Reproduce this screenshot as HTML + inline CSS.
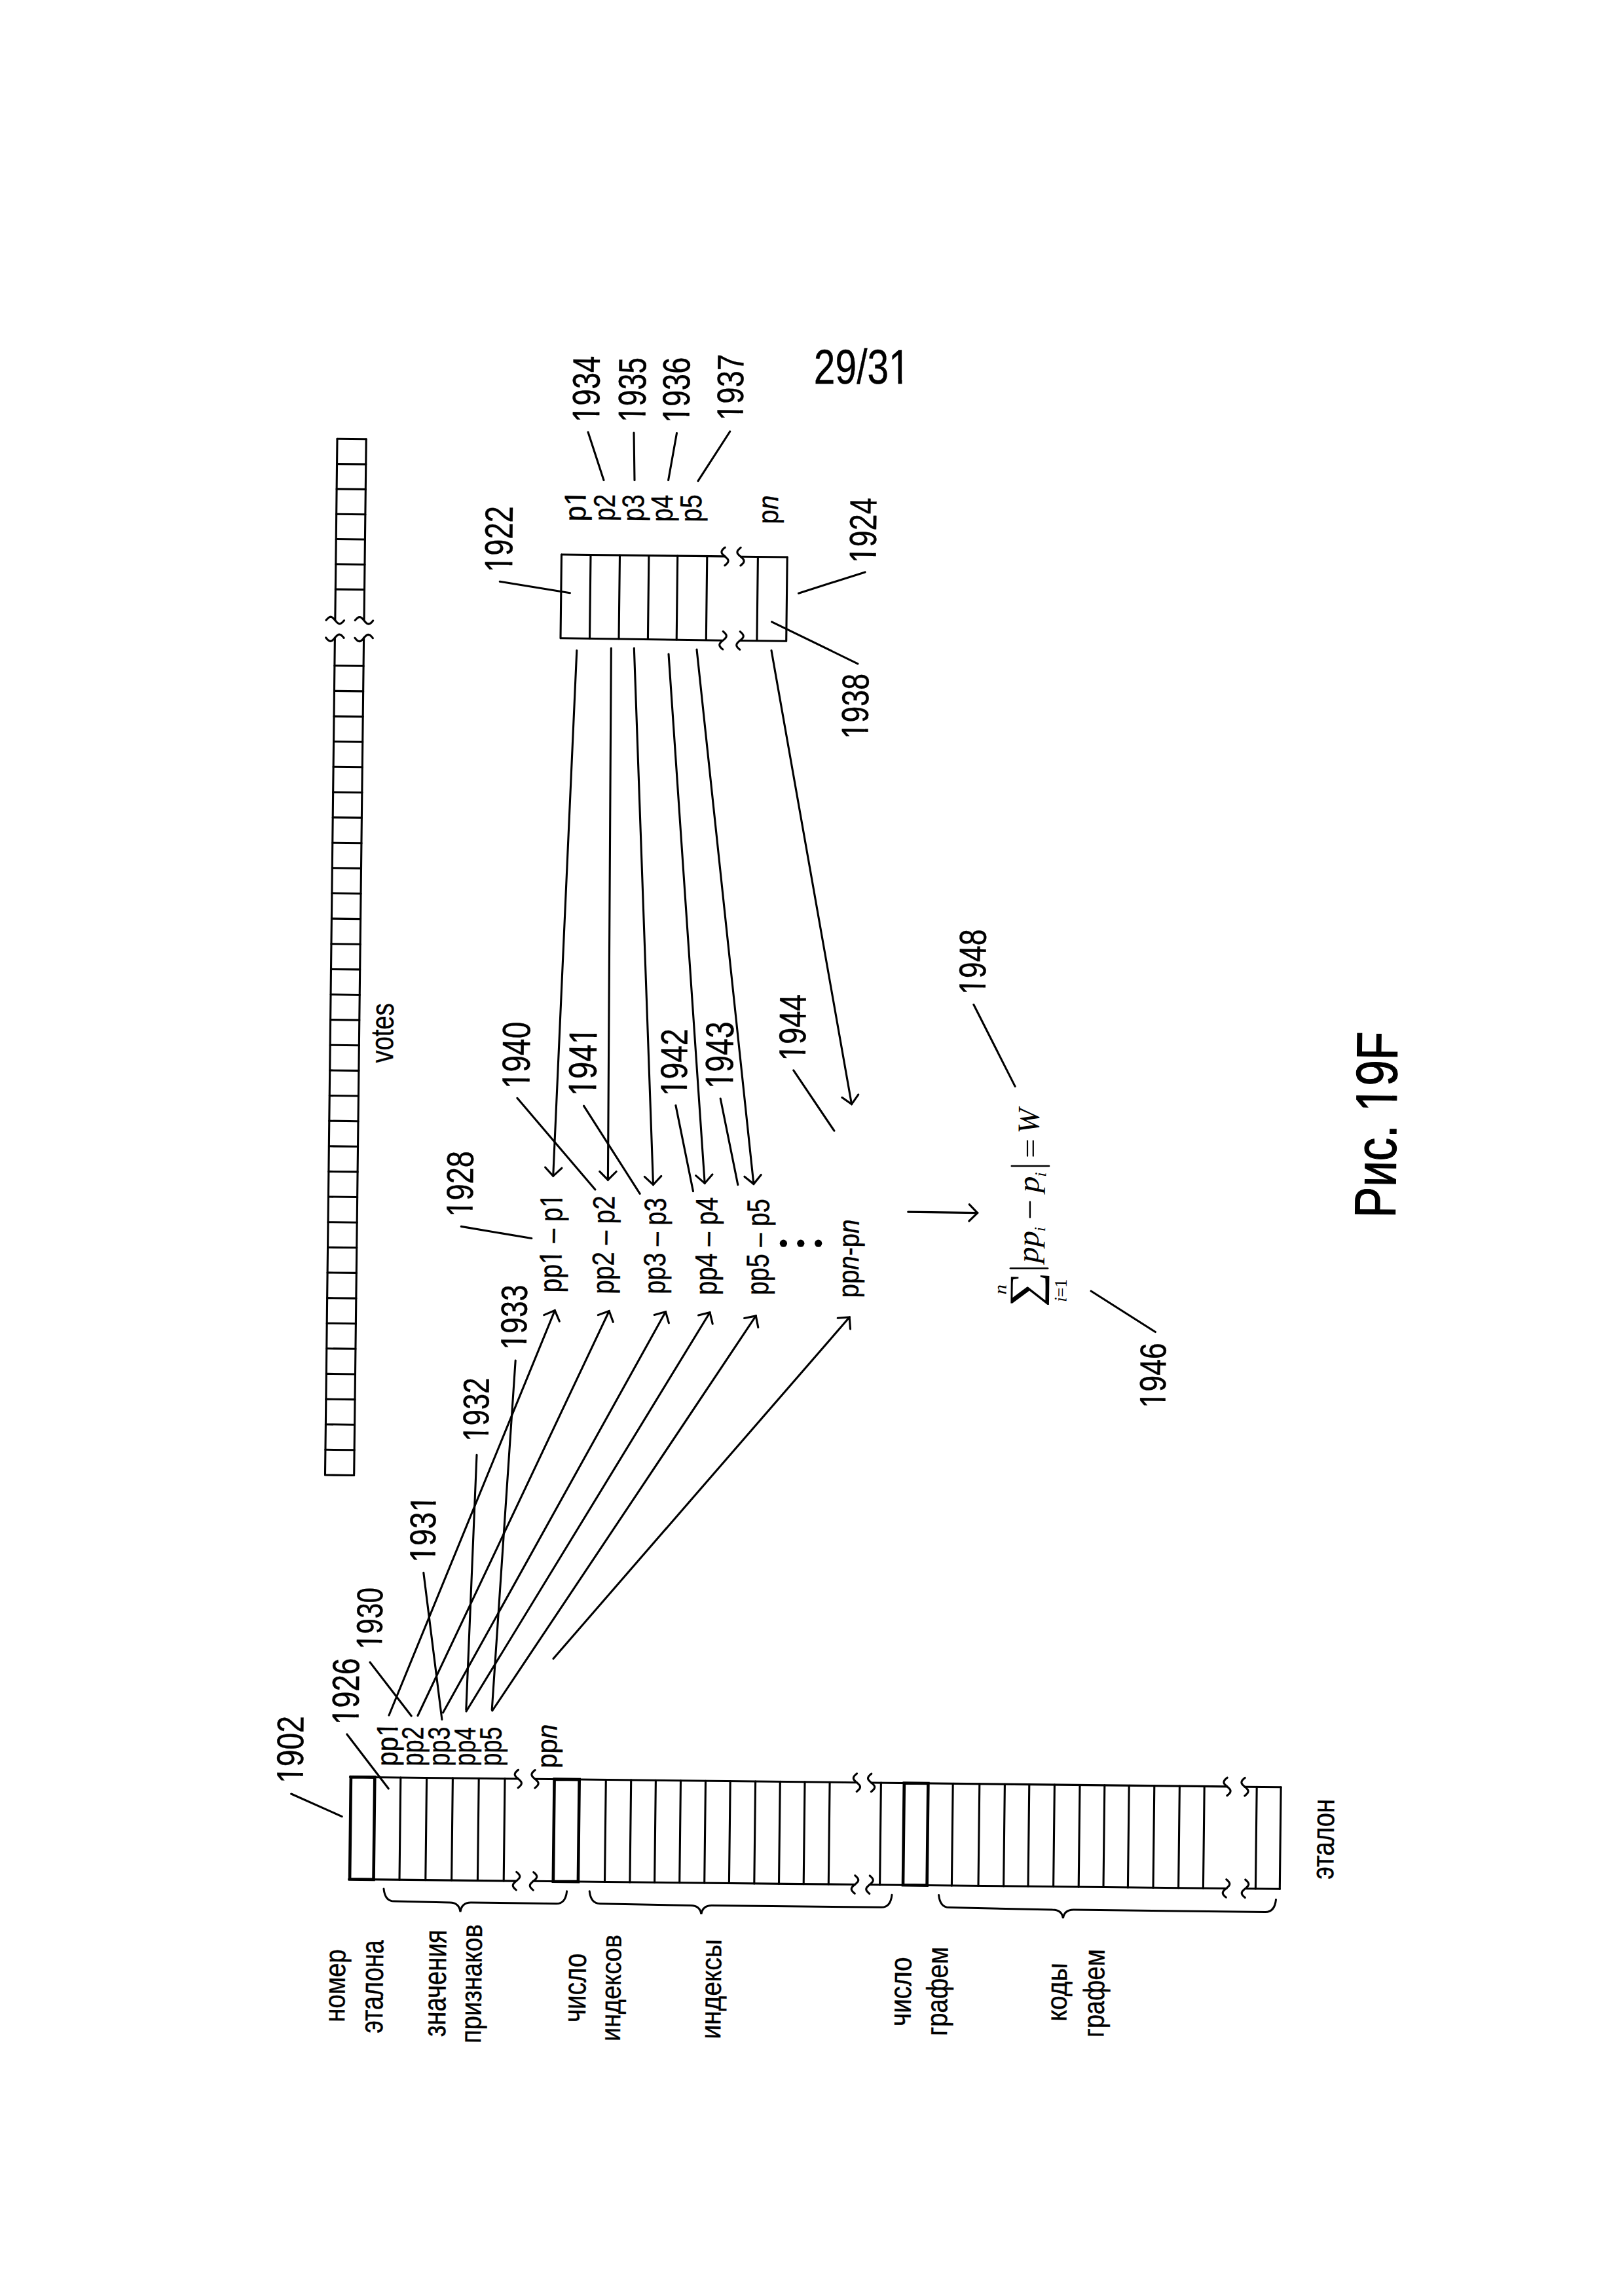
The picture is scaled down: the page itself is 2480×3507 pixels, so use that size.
<!DOCTYPE html>
<html><head><meta charset="utf-8"><style>
html,body{margin:0;padding:0;background:#fff;}
svg{display:block;}
</style></head><body>
<svg width="2480" height="3507" viewBox="0 0 2480 3507">
<rect width="2480" height="3507" fill="#fff"/>
<g stroke="#000" fill="none" stroke-linecap="round">
<g fill="#000" stroke="none">
</g>
<text fill="#000" stroke="#000" stroke-width="0.4" x="1242.8" y="586.3" font-family="'Liberation Sans', sans-serif" font-size="74.7" textLength="147" lengthAdjust="spacingAndGlyphs">29/31</text>
<g transform="translate(1242.8,586.3)" fill="#fff" stroke="none"><rect x="116.8" y="-6.9" width="11.9" height="8.3"/><rect x="134.6" y="-6.9" width="11.4" height="8.3"/></g>
<line x1="515" y1="670.3" x2="511.8" y2="947.5" stroke-width="3.1"/>
<line x1="559.2" y1="670.8" x2="556" y2="947.5" stroke-width="3.1"/>
<line x1="511.4" y1="974" x2="496.5" y2="2252" stroke-width="3.1"/>
<line x1="555.6" y1="974" x2="540.7" y2="2252" stroke-width="3.1"/>
<line x1="515" y1="670.3" x2="559.2" y2="670.8" stroke-width="3.1"/>
<line x1="514.6" y1="708.6" x2="558.8" y2="709.1" stroke-width="3.1"/>
<line x1="514.1" y1="746.9" x2="558.3" y2="747.4" stroke-width="3.1"/>
<line x1="513.7" y1="785.2" x2="557.9" y2="785.7" stroke-width="3.1"/>
<line x1="513.2" y1="823.5" x2="557.4" y2="824" stroke-width="3.1"/>
<line x1="512.8" y1="861.8" x2="557" y2="862.3" stroke-width="3.1"/>
<line x1="512.3" y1="900.1" x2="556.5" y2="900.6" stroke-width="3.1"/>
<line x1="510.9" y1="1016.8" x2="555.1" y2="1017.3" stroke-width="3.1"/>
<line x1="510.5" y1="1055.4" x2="554.7" y2="1055.9" stroke-width="3.1"/>
<line x1="510" y1="1094.1" x2="554.2" y2="1094.6" stroke-width="3.1"/>
<line x1="509.6" y1="1132.7" x2="553.8" y2="1133.2" stroke-width="3.1"/>
<line x1="509.1" y1="1171.3" x2="553.3" y2="1171.8" stroke-width="3.1"/>
<line x1="508.7" y1="1210" x2="552.9" y2="1210.5" stroke-width="3.1"/>
<line x1="508.2" y1="1248.6" x2="552.4" y2="1249.1" stroke-width="3.1"/>
<line x1="507.8" y1="1287.2" x2="552" y2="1287.7" stroke-width="3.1"/>
<line x1="507.3" y1="1325.8" x2="551.5" y2="1326.4" stroke-width="3.1"/>
<line x1="506.9" y1="1364.5" x2="551.1" y2="1365" stroke-width="3.1"/>
<line x1="506.4" y1="1403.1" x2="550.6" y2="1403.6" stroke-width="3.1"/>
<line x1="506" y1="1441.7" x2="550.2" y2="1442.2" stroke-width="3.1"/>
<line x1="505.5" y1="1480.4" x2="549.7" y2="1480.9" stroke-width="3.1"/>
<line x1="505.1" y1="1519" x2="549.3" y2="1519.5" stroke-width="3.1"/>
<line x1="504.6" y1="1557.6" x2="548.8" y2="1558.1" stroke-width="3.1"/>
<line x1="504.2" y1="1596.2" x2="548.4" y2="1596.8" stroke-width="3.1"/>
<line x1="503.7" y1="1634.9" x2="547.9" y2="1635.4" stroke-width="3.1"/>
<line x1="503.3" y1="1673.5" x2="547.5" y2="1674" stroke-width="3.1"/>
<line x1="502.8" y1="1712.1" x2="547" y2="1712.7" stroke-width="3.1"/>
<line x1="502.4" y1="1750.8" x2="546.6" y2="1751.3" stroke-width="3.1"/>
<line x1="501.9" y1="1789.4" x2="546.1" y2="1789.9" stroke-width="3.1"/>
<line x1="501.5" y1="1828" x2="545.7" y2="1828.5" stroke-width="3.1"/>
<line x1="501" y1="1866.7" x2="545.2" y2="1867.2" stroke-width="3.1"/>
<line x1="500.6" y1="1905.3" x2="544.8" y2="1905.8" stroke-width="3.1"/>
<line x1="500.1" y1="1943.9" x2="544.3" y2="1944.4" stroke-width="3.1"/>
<line x1="499.7" y1="1982.6" x2="543.9" y2="1983.1" stroke-width="3.1"/>
<line x1="499.2" y1="2021.2" x2="543.4" y2="2021.7" stroke-width="3.1"/>
<line x1="498.8" y1="2059.8" x2="543" y2="2060.3" stroke-width="3.1"/>
<line x1="498.3" y1="2098.4" x2="542.5" y2="2099" stroke-width="3.1"/>
<line x1="497.8" y1="2137.1" x2="542" y2="2137.6" stroke-width="3.1"/>
<line x1="497.4" y1="2175.7" x2="541.6" y2="2176.2" stroke-width="3.1"/>
<line x1="496.9" y1="2214.3" x2="541.1" y2="2214.8" stroke-width="3.1"/>
<line x1="496.5" y1="2253" x2="540.7" y2="2253.5" stroke-width="3.1"/>
<polyline points="498,947.3 499.4,945.7 500.8,944.3 502.1,943.2 503.5,942.5 504.9,942.2 506.3,942.5 507.6,943.2 509,944.4 510.4,945.9 511.8,947.5 513.1,949.1 514.5,950.6 515.9,951.8 517.3,952.5 518.6,952.8 520,952.5 521.4,951.8 522.8,950.7 524.1,949.3 525.5,947.7" stroke-width="3.1"/>
<polyline points="542.2,947.6 543.6,946 545,944.6 546.3,943.5 547.7,942.8 549.1,942.5 550.5,942.8 551.8,943.5 553.2,944.7 554.6,946.2 556,947.8 557.3,949.4 558.7,950.9 560.1,952.1 561.5,952.8 562.8,953.1 564.2,952.8 565.6,952.1 567,951 568.3,949.6 569.7,948" stroke-width="3.1"/>
<polyline points="497.7,974 499.1,975.7 500.4,977.1 501.8,978.3 503.2,979 504.6,979.3 505.9,979.1 507.3,978.4 508.7,977.2 510.1,975.8 511.4,974.2 512.8,972.6 514.2,971.2 515.6,970 516.9,969.3 518.3,969.1 519.7,969.4 521.1,970.1 522.4,971.3 523.8,972.7 525.2,974.4" stroke-width="3.1"/>
<polyline points="541.9,974.3 543.3,976 544.6,977.4 546,978.6 547.4,979.3 548.8,979.6 550.1,979.4 551.5,978.7 552.9,977.5 554.3,976.1 555.6,974.5 557,972.9 558.4,971.5 559.8,970.3 561.1,969.6 562.5,969.4 563.9,969.7 565.3,970.4 566.6,971.6 568,973 569.4,974.7" stroke-width="3.1"/>
<text fill="#000" stroke="#000" stroke-width="0.4" transform="translate(599.9,1623.7) rotate(-89.33)" font-family="'Liberation Sans', sans-serif" font-size="48.8"  textLength="91.4" lengthAdjust="spacingAndGlyphs">votes</text>
<line x1="857.5" y1="847" x2="1107" y2="849.9" stroke-width="3.1"/>
<line x1="1131.5" y1="850.2" x2="1202.2" y2="851" stroke-width="3.1"/>
<line x1="856.5" y1="974.8" x2="1102.6" y2="978.2" stroke-width="3.1"/>
<line x1="1129.3" y1="978.5" x2="1200.7" y2="979.3" stroke-width="3.1"/>
<line x1="857.5" y1="847" x2="856" y2="974.8" stroke-width="3.1"/>
<line x1="902" y1="847.5" x2="900.5" y2="975.3" stroke-width="3.1"/>
<line x1="946.5" y1="848" x2="945" y2="975.8" stroke-width="3.1"/>
<line x1="990.9" y1="848.6" x2="989.4" y2="976.4" stroke-width="3.1"/>
<line x1="1034.7" y1="849.1" x2="1033.2" y2="976.9" stroke-width="3.1"/>
<line x1="1079.8" y1="849.6" x2="1078.3" y2="977.4" stroke-width="3.1"/>
<line x1="1157.4" y1="850.5" x2="1155.9" y2="978.3" stroke-width="3.1"/>
<line x1="1202.2" y1="851" x2="1200.7" y2="978.8" stroke-width="3.1"/>
<polyline points="1107.2,836.2 1105.5,837.5 1104.1,838.9 1102.9,840.3 1102.2,841.7 1101.9,843 1102.1,844.4 1102.8,845.8 1104,847.2 1105.4,848.5 1107,849.9 1108.6,851.3 1110,852.7 1111.2,854 1111.9,855.4 1112.1,856.8 1111.8,858.2 1111.1,859.5 1109.9,860.9 1108.5,862.3 1106.8,863.7" stroke-width="3.1"/>
<polyline points="1131.2,836.4 1129.5,837.8 1128.1,839.2 1126.9,840.6 1126.2,841.9 1125.9,843.3 1126.1,844.7 1126.8,846.1 1128,847.4 1129.4,848.8 1131,850.2 1132.6,851.6 1134,852.9 1135.2,854.3 1135.9,855.7 1136.1,857.1 1135.8,858.4 1135.1,859.8 1133.9,861.2 1132.5,862.6 1130.8,863.9" stroke-width="3.1"/>
<polyline points="1104.2,964.4 1105.8,965.8 1107.2,967.2 1108.3,968.6 1109,969.9 1109.3,971.3 1109,972.7 1108.3,974.1 1107.1,975.4 1105.6,976.8 1104,978.2 1102.4,979.6 1100.9,980.9 1099.7,982.3 1099,983.7 1098.7,985.1 1099,986.4 1099.7,987.8 1100.8,989.2 1102.2,990.6 1103.8,991.9" stroke-width="3.1"/>
<polyline points="1130.2,964.7 1131.8,966.1 1133.2,967.5 1134.3,968.9 1135,970.2 1135.3,971.6 1135,973 1134.3,974.4 1133.1,975.7 1131.6,977.1 1130,978.5 1128.4,979.9 1126.9,981.2 1125.7,982.6 1125,984 1124.7,985.4 1125,986.7 1125.7,988.1 1126.8,989.5 1128.2,990.9 1129.8,992.2" stroke-width="3.1"/>
<text fill="#000" stroke="#000" stroke-width="0.4" transform="translate(914.9,645.4) rotate(-89.33)" font-family="'Liberation Sans', sans-serif" font-size="58.6"  textLength="101.7" lengthAdjust="spacingAndGlyphs">1934</text>
<g transform="translate(914.9,645.4) rotate(-89.33)" fill="#fff" stroke="none"><rect x="1.6" y="-5.5" width="9.5" height="6.9"/><rect x="15.9" y="-5.5" width="9.1" height="6.9"/></g>
<text fill="#000" stroke="#000" stroke-width="0.4" transform="translate(985.4,645.3) rotate(-89.33)" font-family="'Liberation Sans', sans-serif" font-size="59.3"  textLength="99.2" lengthAdjust="spacingAndGlyphs">1935</text>
<g transform="translate(985.4,645.3) rotate(-89.33)" fill="#fff" stroke="none"><rect x="1.5" y="-5.6" width="9.3" height="7"/><rect x="15.5" y="-5.6" width="8.9" height="7"/></g>
<text fill="#000" stroke="#000" stroke-width="0.4" transform="translate(1052.4,646.3) rotate(-89.33)" font-family="'Liberation Sans', sans-serif" font-size="58.5"  textLength="100.3" lengthAdjust="spacingAndGlyphs">1936</text>
<g transform="translate(1052.4,646.3) rotate(-89.33)" fill="#fff" stroke="none"><rect x="1.6" y="-5.5" width="9.4" height="6.9"/><rect x="15.6" y="-5.5" width="9" height="6.9"/></g>
<text fill="#000" stroke="#000" stroke-width="0.4" transform="translate(1134.4,642.4) rotate(-89.33)" font-family="'Liberation Sans', sans-serif" font-size="56.8"  textLength="101.2" lengthAdjust="spacingAndGlyphs">1937</text>
<g transform="translate(1134.4,642.4) rotate(-89.33)" fill="#fff" stroke="none"><rect x="1.6" y="-5.4" width="9.5" height="6.8"/><rect x="15.8" y="-5.4" width="9.1" height="6.8"/></g>
<line x1="898" y1="660" x2="922" y2="733.5" stroke-width="3.1"/>
<line x1="968" y1="661" x2="969" y2="733.5" stroke-width="3.1"/>
<line x1="1033.5" y1="661.5" x2="1020.6" y2="733.5" stroke-width="3.1"/>
<line x1="1114.8" y1="659" x2="1066" y2="734.6" stroke-width="3.1"/>
<text fill="#000" stroke="#000" stroke-width="0.4" transform="translate(894,796.4) rotate(-89.33)" font-family="'Liberation Sans', sans-serif" font-size="46.2"  textLength="47.6" lengthAdjust="spacingAndGlyphs">p1</text>
<g transform="translate(894,796.4) rotate(-89.33)" fill="#fff" stroke="none"><rect x="25.2" y="-4.5" width="9" height="5.9"/><rect x="38.7" y="-4.5" width="8.6" height="5.9"/></g>
<text fill="#000" stroke="#000" stroke-width="0.4" transform="translate(938.6,796) rotate(-89.33)" font-family="'Liberation Sans', sans-serif" font-size="45.7"  textLength="40.8" lengthAdjust="spacingAndGlyphs">p2</text>
<text fill="#000" stroke="#000" stroke-width="0.4" transform="translate(982.7,796.4) rotate(-89.33)" font-family="'Liberation Sans', sans-serif" font-size="46.9"  textLength="41" lengthAdjust="spacingAndGlyphs">p3</text>
<text fill="#000" stroke="#000" stroke-width="0.4" transform="translate(1026.7,796.9) rotate(-89.33)" font-family="'Liberation Sans', sans-serif" font-size="47"  textLength="41" lengthAdjust="spacingAndGlyphs">p4</text>
<text fill="#000" stroke="#000" stroke-width="0.4" transform="translate(1070.8,797.5) rotate(-89.33)" font-family="'Liberation Sans', sans-serif" font-size="46.4"  textLength="42.1" lengthAdjust="spacingAndGlyphs">p5</text>
<text fill="#000" stroke="#000" stroke-width="0.4" transform="translate(1187.7,800.5) rotate(-89.33)" font-family="'Liberation Sans', sans-serif" font-size="44"  textLength="43.8" lengthAdjust="spacingAndGlyphs">p<tspan font-style="italic">n</tspan></text>
<text fill="#000" stroke="#000" stroke-width="0.4" transform="translate(781.9,874.2) rotate(-89.33)" font-family="'Liberation Sans', sans-serif" font-size="60"  textLength="100.8" lengthAdjust="spacingAndGlyphs">1922</text>
<g transform="translate(781.9,874.2) rotate(-89.33)" fill="#fff" stroke="none"><rect x="1.6" y="-5.6" width="9.4" height="7"/><rect x="15.7" y="-5.6" width="9.1" height="7"/></g>
<line x1="763.3" y1="888.3" x2="870.4" y2="905.7" stroke-width="3.1"/>
<text fill="#000" stroke="#000" stroke-width="0.4" transform="translate(1337.4,860.3) rotate(-89.33)" font-family="'Liberation Sans', sans-serif" font-size="57.9"  textLength="99.6" lengthAdjust="spacingAndGlyphs">1924</text>
<g transform="translate(1337.4,860.3) rotate(-89.33)" fill="#fff" stroke="none"><rect x="1.6" y="-5.5" width="9.3" height="6.9"/><rect x="15.5" y="-5.5" width="9" height="6.9"/></g>
<line x1="1219.5" y1="906.2" x2="1321" y2="873.9" stroke-width="3.1"/>
<text fill="#000" stroke="#000" stroke-width="0.4" transform="translate(1325.3,1128.9) rotate(-89.33)" font-family="'Liberation Sans', sans-serif" font-size="57.5"  textLength="99.9" lengthAdjust="spacingAndGlyphs">1938</text>
<g transform="translate(1325.3,1128.9) rotate(-89.33)" fill="#fff" stroke="none"><rect x="1.6" y="-5.4" width="9.4" height="6.8"/><rect x="15.6" y="-5.4" width="9" height="6.8"/></g>
<line x1="1178.6" y1="949.8" x2="1309.9" y2="1013.8" stroke-width="3.1"/>
<line x1="880.8" y1="993.6" x2="844.7" y2="1796.3" stroke-width="3.1"/>
<polyline points="858,1784.2 844.7,1796.3 832.6,1783" stroke-width="3.1" stroke-linejoin="miter"/>
<line x1="933.3" y1="990" x2="928.4" y2="1802.2" stroke-width="3.1"/>
<polyline points="941.2,1789.5 928.4,1802.2 915.7,1789.4" stroke-width="3.1" stroke-linejoin="miter"/>
<line x1="968.3" y1="990" x2="997.5" y2="1809.6" stroke-width="3.1"/>
<polyline points="1009.8,1796.4 997.5,1809.6 984.3,1797.3" stroke-width="3.1" stroke-linejoin="miter"/>
<line x1="1021" y1="999" x2="1076.2" y2="1807.4" stroke-width="3.1"/>
<polyline points="1088,1793.8 1076.2,1807.4 1062.6,1795.6" stroke-width="3.1" stroke-linejoin="miter"/>
<line x1="1064" y1="992" x2="1150.9" y2="1808.5" stroke-width="3.1"/>
<polyline points="1162.2,1794.5 1150.9,1808.5 1136.9,1797.2" stroke-width="3.1" stroke-linejoin="miter"/>
<line x1="1178" y1="993.6" x2="1300.5" y2="1686.6" stroke-width="3.1"/>
<polyline points="1310.8,1671.9 1300.5,1686.6 1285.8,1676.3" stroke-width="3.1" stroke-linejoin="miter"/>
<text fill="#000" stroke="#000" stroke-width="0.4" transform="translate(808.4,1663.3) rotate(-89.33)" font-family="'Liberation Sans', sans-serif" font-size="59.9"  textLength="102.3" lengthAdjust="spacingAndGlyphs">1940</text>
<g transform="translate(808.4,1663.3) rotate(-89.33)" fill="#fff" stroke="none"><rect x="1.6" y="-5.6" width="9.6" height="7"/><rect x="15.9" y="-5.6" width="9.2" height="7"/></g>
<text fill="#000" stroke="#000" stroke-width="0.4" transform="translate(910.1,1674.5) rotate(-89.33)" font-family="'Liberation Sans', sans-serif" font-size="60"  textLength="105.4" lengthAdjust="spacingAndGlyphs">1941</text>
<g transform="translate(910.1,1674.5) rotate(-89.33)" fill="#fff" stroke="none"><rect x="1.7" y="-5.6" width="9.8" height="7"/><rect x="16.4" y="-5.6" width="9.4" height="7"/><rect x="80.7" y="-5.6" width="9.8" height="7"/><rect x="95.4" y="-5.6" width="9.4" height="7"/></g>
<text fill="#000" stroke="#000" stroke-width="0.4" transform="translate(1048.7,1674.4) rotate(-89.33)" font-family="'Liberation Sans', sans-serif" font-size="57.5"  textLength="102.9" lengthAdjust="spacingAndGlyphs">1942</text>
<g transform="translate(1048.7,1674.4) rotate(-89.33)" fill="#fff" stroke="none"><rect x="1.7" y="-5.4" width="9.6" height="6.8"/><rect x="16" y="-5.4" width="9.2" height="6.8"/></g>
<text fill="#000" stroke="#000" stroke-width="0.4" transform="translate(1118.9,1663.3) rotate(-89.33)" font-family="'Liberation Sans', sans-serif" font-size="60"  textLength="102.6" lengthAdjust="spacingAndGlyphs">1943</text>
<g transform="translate(1118.9,1663.3) rotate(-89.33)" fill="#fff" stroke="none"><rect x="1.6" y="-5.6" width="9.6" height="7"/><rect x="16" y="-5.6" width="9.2" height="7"/></g>
<text fill="#000" stroke="#000" stroke-width="0.4" transform="translate(1229.7,1620.8) rotate(-89.33)" font-family="'Liberation Sans', sans-serif" font-size="57.5"  textLength="101.9" lengthAdjust="spacingAndGlyphs">1944</text>
<g transform="translate(1229.7,1620.8) rotate(-89.33)" fill="#fff" stroke="none"><rect x="1.6" y="-5.4" width="9.5" height="6.8"/><rect x="15.9" y="-5.4" width="9.2" height="6.8"/></g>
<line x1="789.9" y1="1677.3" x2="908.9" y2="1817" stroke-width="3.1"/>
<line x1="891.5" y1="1689.2" x2="977.2" y2="1823.3" stroke-width="3.1"/>
<line x1="1031.9" y1="1688.4" x2="1058.5" y2="1819.6" stroke-width="3.1"/>
<line x1="1100.2" y1="1678" x2="1126.8" y2="1809.6" stroke-width="3.1"/>
<line x1="1211.8" y1="1634.8" x2="1273.9" y2="1727.2" stroke-width="3.1"/>
<text fill="#000" stroke="#000" stroke-width="0.4" transform="translate(721.6,1858.8) rotate(-89.33)" font-family="'Liberation Sans', sans-serif" font-size="57.3"  textLength="100.5" lengthAdjust="spacingAndGlyphs">1928</text>
<g transform="translate(721.6,1858.8) rotate(-89.33)" fill="#fff" stroke="none"><rect x="1.6" y="-5.4" width="9.4" height="6.8"/><rect x="15.7" y="-5.4" width="9" height="6.8"/></g>
<line x1="704.3" y1="1873.4" x2="811.8" y2="1891.5" stroke-width="3.1"/>
<text fill="#000" stroke="#000" stroke-width="0.4" transform="translate(857.1,1974.4) rotate(-89.33)" font-family="'Liberation Sans', sans-serif" font-size="48.4"  textLength="151.4" lengthAdjust="spacingAndGlyphs">pp1 – p1</text>
<g transform="translate(857.1,1974.4) rotate(-89.33)" fill="#fff" stroke="none"><rect x="44.4" y="-4.7" width="8.2" height="6.1"/><rect x="56.8" y="-4.7" width="7.9" height="6.1"/><rect x="130.9" y="-4.7" width="8.2" height="6.1"/><rect x="143.3" y="-4.7" width="7.9" height="6.1"/></g>
<text fill="#000" stroke="#000" stroke-width="0.4" transform="translate(936.8,1976.8) rotate(-89.33)" font-family="'Liberation Sans', sans-serif" font-size="46.9"  textLength="150.4" lengthAdjust="spacingAndGlyphs">pp2 – p2</text>
<text fill="#000" stroke="#000" stroke-width="0.4" transform="translate(1015.2,1976.8) rotate(-89.33)" font-family="'Liberation Sans', sans-serif" font-size="46.9"  textLength="147.2" lengthAdjust="spacingAndGlyphs">pp3 – p3</text>
<text fill="#000" stroke="#000" stroke-width="0.4" transform="translate(1093.9,1978.2) rotate(-89.33)" font-family="'Liberation Sans', sans-serif" font-size="47.4"  textLength="149.5" lengthAdjust="spacingAndGlyphs">pp4 – p4</text>
<text fill="#000" stroke="#000" stroke-width="0.4" transform="translate(1173.1,1978.2) rotate(-89.33)" font-family="'Liberation Sans', sans-serif" font-size="48.1"  textLength="147.1" lengthAdjust="spacingAndGlyphs">pp5 – p5</text>
<text fill="#000" stroke="#000" stroke-width="0.4" transform="translate(1310.4,1982.5) rotate(-89.33)" font-family="'Liberation Sans', sans-serif" font-size="44.5"  textLength="119.8" lengthAdjust="spacingAndGlyphs">pp<tspan font-style="italic">n</tspan>-p<tspan font-style="italic">n</tspan></text>
<circle cx="1196.4" cy="1899.2" r="5.6" stroke="none" fill="#000"/>
<circle cx="1222.8" cy="1899.2" r="5.6" stroke="none" fill="#000"/>
<circle cx="1249.7" cy="1899.2" r="5.6" stroke="none" fill="#000"/>
<line x1="594" y1="2620" x2="847.3" y2="2001.6" stroke-width="3.1"/>
<polyline points="830.7,2008.6 847.3,2001.6 854.3,2018.2" stroke-width="3.1" stroke-linejoin="miter"/>
<line x1="638" y1="2620.5" x2="930.2" y2="2002.5" stroke-width="3.1"/>
<polyline points="913.3,2008.6 930.2,2002.5 936.3,2019.4" stroke-width="3.1" stroke-linejoin="miter"/>
<line x1="676.5" y1="2616" x2="1016.5" y2="2003.6" stroke-width="3.1"/>
<polyline points="999.2,2008.5 1016.5,2003.6 1021.4,2020.9" stroke-width="3.1" stroke-linejoin="miter"/>
<line x1="712" y1="2614" x2="1084" y2="2004.7" stroke-width="3.1"/>
<polyline points="1066.5,2008.9 1084,2004.7 1088.2,2022.2" stroke-width="3.1" stroke-linejoin="miter"/>
<line x1="751.8" y1="2613" x2="1154.3" y2="2009.9" stroke-width="3.1"/>
<polyline points="1136.6,2013.4 1154.3,2009.9 1157.8,2027.6" stroke-width="3.1" stroke-linejoin="miter"/>
<line x1="845" y1="2533.5" x2="1297.2" y2="2012" stroke-width="3.1"/>
<polyline points="1279.2,2013.3 1297.2,2012 1298.5,2030" stroke-width="3.1" stroke-linejoin="miter"/>
<line x1="1386.7" y1="1851.1" x2="1492.7" y2="1852.6" stroke-width="3.1"/>
<polyline points="1480.2,1839.7 1492.7,1852.6 1479.8,1865.1" stroke-width="3.1" stroke-linejoin="miter"/>
<text fill="#000" stroke="#000" stroke-width="0.4" transform="translate(1504.7,1519.6) rotate(-89.33)" font-family="'Liberation Sans', sans-serif" font-size="57.6"  textLength="100" lengthAdjust="spacingAndGlyphs">1948</text>
<g transform="translate(1504.7,1519.6) rotate(-89.33)" fill="#fff" stroke="none"><rect x="1.6" y="-5.4" width="9.4" height="6.8"/><rect x="15.6" y="-5.4" width="9" height="6.8"/></g>
<line x1="1486.9" y1="1534.5" x2="1550.1" y2="1659.4" stroke-width="3.1"/>
<text fill="#000" stroke="#000" stroke-width="0.4" transform="translate(1779.5,2150.9) rotate(-89.33)" font-family="'Liberation Sans', sans-serif" font-size="56.1"  textLength="99.6" lengthAdjust="spacingAndGlyphs">1946</text>
<g transform="translate(1779.5,2150.9) rotate(-89.33)" fill="#fff" stroke="none"><rect x="1.6" y="-5.3" width="9.3" height="6.7"/><rect x="15.5" y="-5.3" width="9" height="6.7"/></g>
<line x1="1666.1" y1="1972" x2="1764.4" y2="2034.5" stroke-width="3.1"/>
<text fill="#000" stroke="#000" stroke-width="1.2" transform="translate(2130.6,1860.5) rotate(-89.33)" font-family="'Liberation Sans', sans-serif" font-size="88.7"  textLength="284.5" lengthAdjust="spacingAndGlyphs">Рис. 19F</text>
<g transform="translate(2130.6,1860.5) rotate(-89.33)" fill="#fff" stroke="none"><rect x="165" y="-8.5" width="14.2" height="10.3"/><rect x="186.9" y="-8.5" width="13.6" height="10.3"/></g>
<text fill="#000" stroke="#000" stroke-width="0.0" transform="translate(1586.2,1731.8) rotate(-89.33)" font-family="'Liberation Serif', serif" font-size="47" font-style="italic" textLength="38.4" lengthAdjust="spacingAndGlyphs">W</text>
<line x1="1569" y1="1742.6" x2="1569" y2="1765.7" stroke-width="2.2"/>
<line x1="1577.8" y1="1742.6" x2="1577.8" y2="1765.7" stroke-width="2.2"/>
<line x1="1544.8" y1="1781" x2="1602" y2="1781" stroke-width="2.6"/>
<text fill="#000" stroke="#000" stroke-width="0.0" transform="translate(1586,1821.8) rotate(-89.33)" font-family="'Liberation Serif', serif" font-size="45.3" font-style="italic" textLength="25.1" lengthAdjust="spacingAndGlyphs">p</text>
<text fill="#000" stroke="#000" stroke-width="0.0" transform="translate(1597.3,1797.8) rotate(-89.33)" font-family="'Liberation Serif', serif" font-size="24.5" font-style="italic" textLength="7.2" lengthAdjust="spacingAndGlyphs">i</text>
<line x1="1572.9" y1="1835.7" x2="1572.9" y2="1859.4" stroke-width="2.4"/>
<text fill="#000" stroke="#000" stroke-width="0.0" transform="translate(1585.1,1928.9) rotate(-89.33)" font-family="'Liberation Serif', serif" font-size="45.5" font-style="italic" textLength="48.9" lengthAdjust="spacingAndGlyphs">pp</text>
<text fill="#000" stroke="#000" stroke-width="0.0" transform="translate(1595.9,1880.9) rotate(-89.33)" font-family="'Liberation Serif', serif" font-size="23.9" font-style="italic" textLength="6.7" lengthAdjust="spacingAndGlyphs">i</text>
<line x1="1542.9" y1="1937.2" x2="1600" y2="1937.2" stroke-width="2.5"/>
<text fill="#000" stroke="#000" stroke-width="0.0" transform="translate(1587.6,1996.3) rotate(-89.33)" font-family="'Liberation Serif', serif" font-size="67.5"  textLength="53.5" lengthAdjust="spacingAndGlyphs">∑</text>
<text fill="#000" stroke="#000" stroke-width="0.0" transform="translate(1536.4,1977.2) rotate(-89.33)" font-family="'Liberation Serif', serif" font-size="27.2" font-style="italic" textLength="15.2" lengthAdjust="spacingAndGlyphs">n</text>
<text fill="#000" stroke="#000" stroke-width="0.0" transform="translate(1628.5,1988.7) rotate(-89.33)" font-family="'Liberation Serif', serif" font-size="26.9" font-style="italic" textLength="34.9" lengthAdjust="spacingAndGlyphs"><tspan font-style="italic">i</tspan><tspan font-style="normal">=1</tspan></text>
<line x1="534.4" y1="2714.2" x2="791.3" y2="2717" stroke-width="3.1"/>
<line x1="817" y1="2717.3" x2="1308.4" y2="2722.7" stroke-width="3.1"/>
<line x1="1330.6" y1="2723" x2="1874" y2="2728.9" stroke-width="3.1"/>
<line x1="1901" y1="2729.2" x2="1956.1" y2="2729.8" stroke-width="3.1"/>
<line x1="532.6" y1="2870.4" x2="788" y2="2873.1" stroke-width="3.1"/>
<line x1="814" y1="2873.3" x2="1305.5" y2="2878.5" stroke-width="3.1"/>
<line x1="1328" y1="2878.7" x2="1873" y2="2884.5" stroke-width="3.1"/>
<line x1="1903" y1="2884.8" x2="1954.3" y2="2885.3" stroke-width="3.1"/>
<polyline points="791.5,2703.3 789.8,2704.7 788.4,2706 787.2,2707.4 786.5,2708.8 786.2,2710.2 786.4,2711.5 787.1,2712.9 788.3,2714.3 789.7,2715.7 791.3,2717 792.9,2718.4 794.3,2719.8 795.5,2721.2 796.2,2722.5 796.4,2723.9 796.1,2725.3 795.4,2726.7 794.2,2728 792.8,2729.4 791.1,2730.8" stroke-width="3.1"/>
<polyline points="817.2,2703.6 815.5,2704.9 814.1,2706.3 812.9,2707.7 812.2,2709.1 811.9,2710.4 812.1,2711.8 812.8,2713.2 814,2714.6 815.4,2715.9 817,2717.3 818.6,2718.7 820,2720.1 821.2,2721.4 821.9,2722.8 822.1,2724.2 821.8,2725.6 821.1,2726.9 819.9,2728.3 818.5,2729.7 816.8,2731.1" stroke-width="3.1"/>
<polyline points="1308.6,2709 1306.9,2710.3 1305.5,2711.7 1304.3,2713.1 1303.6,2714.5 1303.3,2715.8 1303.5,2717.2 1304.2,2718.6 1305.4,2720 1306.8,2721.3 1308.4,2722.7 1310,2724.1 1311.4,2725.5 1312.6,2726.8 1313.3,2728.2 1313.5,2729.6 1313.2,2731 1312.5,2732.3 1311.3,2733.7 1309.9,2735.1 1308.2,2736.5" stroke-width="3.1"/>
<polyline points="1330.8,2709.2 1329.1,2710.6 1327.7,2712 1326.5,2713.3 1325.8,2714.7 1325.5,2716.1 1325.7,2717.5 1326.4,2718.8 1327.6,2720.2 1329,2721.6 1330.6,2723 1332.2,2724.3 1333.6,2725.7 1334.8,2727.1 1335.5,2728.5 1335.7,2729.8 1335.4,2731.2 1334.7,2732.6 1333.5,2734 1332.1,2735.3 1330.4,2736.7" stroke-width="3.1"/>
<polyline points="1874.2,2715.2 1872.5,2716.6 1871.1,2717.9 1869.9,2719.3 1869.2,2720.7 1868.9,2722.1 1869.1,2723.4 1869.8,2724.8 1871,2726.2 1872.4,2727.6 1874,2728.9 1875.6,2730.3 1877,2731.7 1878.2,2733.1 1878.9,2734.4 1879.1,2735.8 1878.8,2737.2 1878.1,2738.6 1876.9,2739.9 1875.5,2741.3 1873.8,2742.7" stroke-width="3.1"/>
<polyline points="1901.2,2715.5 1899.5,2716.9 1898.1,2718.2 1896.9,2719.6 1896.2,2721 1895.9,2722.4 1896.1,2723.7 1896.8,2725.1 1898,2726.5 1899.4,2727.9 1901,2729.2 1902.6,2730.6 1904,2732 1905.2,2733.4 1905.9,2734.7 1906.1,2736.1 1905.8,2737.5 1905.1,2738.9 1903.9,2740.2 1902.5,2741.6 1900.8,2743" stroke-width="3.1"/>
<polyline points="788.7,2859.3 790.3,2860.7 791.7,2862.1 792.8,2863.4 793.5,2864.8 793.8,2866.2 793.5,2867.6 792.8,2868.9 791.6,2870.3 790.1,2871.7 788.5,2873.1 786.9,2874.4 785.4,2875.8 784.2,2877.2 783.5,2878.6 783.2,2879.9 783.5,2881.3 784.2,2882.7 785.3,2884.1 786.7,2885.4 788.3,2886.8" stroke-width="3.1"/>
<polyline points="814.7,2859.6 816.3,2861 817.7,2862.3 818.8,2863.7 819.5,2865.1 819.8,2866.5 819.5,2867.8 818.8,2869.2 817.6,2870.6 816.1,2872 814.5,2873.3 812.9,2874.7 811.4,2876.1 810.2,2877.5 809.5,2878.8 809.2,2880.2 809.5,2881.6 810.2,2883 811.3,2884.3 812.7,2885.7 814.3,2887.1" stroke-width="3.1"/>
<polyline points="1305.7,2864.7 1307.3,2866.1 1308.7,2867.5 1309.8,2868.9 1310.5,2870.2 1310.8,2871.6 1310.5,2873 1309.8,2874.4 1308.6,2875.7 1307.1,2877.1 1305.5,2878.5 1303.9,2879.9 1302.4,2881.2 1301.2,2882.6 1300.5,2884 1300.2,2885.4 1300.5,2886.7 1301.2,2888.1 1302.3,2889.5 1303.7,2890.9 1305.3,2892.2" stroke-width="3.1"/>
<polyline points="1328.2,2865 1329.8,2866.4 1331.2,2867.7 1332.3,2869.1 1333,2870.5 1333.3,2871.9 1333,2873.2 1332.3,2874.6 1331.1,2876 1329.6,2877.4 1328,2878.7 1326.4,2880.1 1324.9,2881.5 1323.7,2882.9 1323,2884.2 1322.7,2885.6 1323,2887 1323.7,2888.4 1324.8,2889.7 1326.2,2891.1 1327.8,2892.5" stroke-width="3.1"/>
<polyline points="1872.7,2870.7 1874.3,2872.1 1875.7,2873.5 1876.8,2874.8 1877.5,2876.2 1877.8,2877.6 1877.5,2879 1876.8,2880.3 1875.6,2881.7 1874.1,2883.1 1872.5,2884.5 1870.9,2885.8 1869.4,2887.2 1868.2,2888.6 1867.5,2890 1867.2,2891.3 1867.5,2892.7 1868.2,2894.1 1869.3,2895.5 1870.7,2896.8 1872.3,2898.2" stroke-width="3.1"/>
<polyline points="1901.7,2871 1903.3,2872.4 1904.7,2873.8 1905.8,2875.1 1906.5,2876.5 1906.8,2877.9 1906.5,2879.3 1905.8,2880.6 1904.6,2882 1903.1,2883.4 1901.5,2884.8 1899.9,2886.1 1898.4,2887.5 1897.2,2888.9 1896.5,2890.3 1896.2,2891.6 1896.5,2893 1897.2,2894.4 1898.3,2895.8 1899.7,2897.1 1901.3,2898.5" stroke-width="3.1"/>
<line x1="611.8" y1="2715.1" x2="610" y2="2871.2" stroke-width="3.1"/>
<line x1="651.6" y1="2715.5" x2="649.8" y2="2871.6" stroke-width="3.1"/>
<line x1="691.4" y1="2715.9" x2="689.6" y2="2872" stroke-width="3.1"/>
<line x1="731.2" y1="2716.4" x2="729.4" y2="2872.5" stroke-width="3.1"/>
<line x1="771" y1="2716.8" x2="769.2" y2="2872.9" stroke-width="3.1"/>
<line x1="925.3" y1="2718.5" x2="923.5" y2="2874.5" stroke-width="3.1"/>
<line x1="963.7" y1="2718.9" x2="961.9" y2="2874.9" stroke-width="3.1"/>
<line x1="1001.4" y1="2719.3" x2="999.6" y2="2875.3" stroke-width="3.1"/>
<line x1="1039.5" y1="2719.8" x2="1037.7" y2="2875.7" stroke-width="3.1"/>
<line x1="1077.5" y1="2720.2" x2="1075.7" y2="2876.1" stroke-width="3.1"/>
<line x1="1115.2" y1="2720.6" x2="1113.4" y2="2876.5" stroke-width="3.1"/>
<line x1="1153.6" y1="2721" x2="1151.8" y2="2876.9" stroke-width="3.1"/>
<line x1="1191.3" y1="2721.4" x2="1189.5" y2="2877.3" stroke-width="3.1"/>
<line x1="1229" y1="2721.8" x2="1227.2" y2="2877.7" stroke-width="3.1"/>
<line x1="1267.1" y1="2722.3" x2="1265.3" y2="2878.1" stroke-width="3.1"/>
<line x1="1345.4" y1="2723.1" x2="1343.6" y2="2878.9" stroke-width="3.1"/>
<line x1="1455.2" y1="2724.3" x2="1453.4" y2="2880.1" stroke-width="3.1"/>
<line x1="1495.8" y1="2724.8" x2="1494" y2="2880.5" stroke-width="3.1"/>
<line x1="1534.4" y1="2725.2" x2="1532.6" y2="2880.9" stroke-width="3.1"/>
<line x1="1571.8" y1="2725.6" x2="1570" y2="2881.3" stroke-width="3.1"/>
<line x1="1610.4" y1="2726" x2="1608.6" y2="2881.7" stroke-width="3.1"/>
<line x1="1649" y1="2726.5" x2="1647.2" y2="2882.1" stroke-width="3.1"/>
<line x1="1686.8" y1="2726.9" x2="1685" y2="2882.5" stroke-width="3.1"/>
<line x1="1724.2" y1="2727.3" x2="1722.4" y2="2882.9" stroke-width="3.1"/>
<line x1="1762.8" y1="2727.7" x2="1761" y2="2883.3" stroke-width="3.1"/>
<line x1="1801.4" y1="2728.1" x2="1799.6" y2="2883.7" stroke-width="3.1"/>
<line x1="1839.2" y1="2728.6" x2="1837.4" y2="2884.1" stroke-width="3.1"/>
<line x1="1919.2" y1="2729.4" x2="1917.4" y2="2884.9" stroke-width="3.1"/>
<line x1="1956.1" y1="2729.8" x2="1954.3" y2="2885.3" stroke-width="3.1"/>
<polygon points="535.9,2714.2 572.3,2714.6 570.5,2870.8 534.1,2870.4" stroke-width="4.6" fill="none"/>
<polygon points="846.6,2717.6 884.7,2718.1 882.9,2874.1 844.8,2873.7" stroke-width="4.6" fill="none"/>
<polygon points="1380.8,2723.5 1417.4,2723.9 1415.6,2879.7 1379,2879.3" stroke-width="4.6" fill="none"/>
<path d="M586,2885.1 Q588,2904.1 602,2904.1 L687,2905.9 Q701,2905.9 703,2920.2 Q705,2905.9 719,2905.9 L849.6,2907.8 Q863.6,2907.8 865.6,2888.8" fill="none" stroke-width="3.0"/>
<path d="M900.2,2888.7 Q902.2,2907.7 916.2,2907.7 L1054.9,2910.5 Q1068.9,2910.5 1070.9,2923.8 Q1072.9,2910.5 1086.9,2910.5 L1346,2913.3 Q1360,2913.3 1362,2894.3" fill="none" stroke-width="3.0"/>
<path d="M1433.6,2894.6 Q1435.6,2913.6 1449.6,2913.6 L1607.4,2917.1 Q1621.4,2917.1 1623.4,2930 Q1625.4,2917.1 1639.4,2917.1 L1932.5,2920.5 Q1946.5,2920.5 1948.5,2901.5" fill="none" stroke-width="3.0"/>
<text fill="#000" stroke="#000" stroke-width="0.4" transform="translate(462.4,2724.1) rotate(-89.33)" font-family="'Liberation Sans', sans-serif" font-size="57.2"  textLength="102.9" lengthAdjust="spacingAndGlyphs">1902</text>
<g transform="translate(462.4,2724.1) rotate(-89.33)" fill="#fff" stroke="none"><rect x="1.7" y="-5.4" width="9.6" height="6.8"/><rect x="16" y="-5.4" width="9.2" height="6.8"/></g>
<line x1="444.7" y1="2740" x2="522.2" y2="2774.6" stroke-width="3.1"/>
<text fill="#000" stroke="#000" stroke-width="0.4" transform="translate(547.4,2634.4) rotate(-89.33)" font-family="'Liberation Sans', sans-serif" font-size="57.9"  textLength="101.4" lengthAdjust="spacingAndGlyphs">1926</text>
<g transform="translate(547.4,2634.4) rotate(-89.33)" fill="#fff" stroke="none"><rect x="1.6" y="-5.5" width="9.5" height="6.9"/><rect x="15.8" y="-5.5" width="9.1" height="6.9"/></g>
<line x1="529.8" y1="2649" x2="593.3" y2="2732" stroke-width="3.1"/>
<text fill="#000" stroke="#000" stroke-width="0.4" transform="translate(583.1,2519.6) rotate(-89.33)" font-family="'Liberation Sans', sans-serif" font-size="55.6"  textLength="94.5" lengthAdjust="spacingAndGlyphs">1930</text>
<g transform="translate(583.1,2519.6) rotate(-89.33)" fill="#fff" stroke="none"><rect x="1.4" y="-5.3" width="8.9" height="6.7"/><rect x="14.7" y="-5.3" width="8.6" height="6.7"/></g>
<line x1="565" y1="2539" x2="628.2" y2="2621" stroke-width="3.1"/>
<text fill="#000" stroke="#000" stroke-width="0.4" transform="translate(664.4,2387) rotate(-89.33)" font-family="'Liberation Sans', sans-serif" font-size="55.6"  textLength="103.1" lengthAdjust="spacingAndGlyphs">1931</text>
<g transform="translate(664.4,2387) rotate(-89.33)" fill="#fff" stroke="none"><rect x="1.7" y="-5.3" width="9.6" height="6.7"/><rect x="16.1" y="-5.3" width="9.3" height="6.7"/><rect x="79" y="-5.3" width="9.6" height="6.7"/><rect x="93.4" y="-5.3" width="9.3" height="6.7"/></g>
<line x1="646.8" y1="2402.2" x2="674.9" y2="2626.4" stroke-width="3.1"/>
<text fill="#000" stroke="#000" stroke-width="0.4" transform="translate(745.7,2202) rotate(-89.33)" font-family="'Liberation Sans', sans-serif" font-size="55.6"  textLength="97.5" lengthAdjust="spacingAndGlyphs">1932</text>
<g transform="translate(745.7,2202) rotate(-89.33)" fill="#fff" stroke="none"><rect x="1.5" y="-5.3" width="9.2" height="6.7"/><rect x="15.2" y="-5.3" width="8.8" height="6.7"/></g>
<line x1="728" y1="2222.4" x2="711.8" y2="2611.6" stroke-width="3.1"/>
<text fill="#000" stroke="#000" stroke-width="0.4" transform="translate(803.8,2062.1) rotate(-89.33)" font-family="'Liberation Sans', sans-serif" font-size="56.1"  textLength="99.6" lengthAdjust="spacingAndGlyphs">1933</text>
<g transform="translate(803.8,2062.1) rotate(-89.33)" fill="#fff" stroke="none"><rect x="1.6" y="-5.3" width="9.3" height="6.7"/><rect x="15.5" y="-5.3" width="9" height="6.7"/></g>
<line x1="787.2" y1="2078" x2="751.2" y2="2611.6" stroke-width="3.1"/>
<text fill="#000" stroke="#000" stroke-width="0.4" transform="translate(606.8,2698) rotate(-89.33)" font-family="'Liberation Sans', sans-serif" font-size="45.8"  textLength="67.6" lengthAdjust="spacingAndGlyphs">pp1</text>
<g transform="translate(606.8,2698) rotate(-89.33)" fill="#fff" stroke="none"><rect x="46.3" y="-4.4" width="8.5" height="5.8"/><rect x="59.1" y="-4.4" width="8.2" height="5.8"/></g>
<text fill="#000" stroke="#000" stroke-width="0.4" transform="translate(645.8,2697.8) rotate(-89.33)" font-family="'Liberation Sans', sans-serif" font-size="46.4"  textLength="60.4" lengthAdjust="spacingAndGlyphs">pp2</text>
<text fill="#000" stroke="#000" stroke-width="0.4" transform="translate(685.9,2697.7) rotate(-89.33)" font-family="'Liberation Sans', sans-serif" font-size="46.4"  textLength="60.1" lengthAdjust="spacingAndGlyphs">pp3</text>
<text fill="#000" stroke="#000" stroke-width="0.4" transform="translate(725.2,2697.7) rotate(-89.33)" font-family="'Liberation Sans', sans-serif" font-size="45.9"  textLength="59.6" lengthAdjust="spacingAndGlyphs">pp4</text>
<text fill="#000" stroke="#000" stroke-width="0.4" transform="translate(765,2697.7) rotate(-89.33)" font-family="'Liberation Sans', sans-serif" font-size="46.9"  textLength="60.1" lengthAdjust="spacingAndGlyphs">pp5</text>
<text fill="#000" stroke="#000" stroke-width="0.4" transform="translate(849.7,2701.1) rotate(-89.33)" font-family="'Liberation Sans', sans-serif" font-size="43.4"  textLength="67.3" lengthAdjust="spacingAndGlyphs">pp<tspan font-style="italic">n</tspan></text>
<text fill="#000" stroke="#000" stroke-width="0.4" transform="translate(526.1,3088.9) rotate(-89.33)" font-family="'Liberation Sans', sans-serif" font-size="44.5"  textLength="111.5" lengthAdjust="spacingAndGlyphs">номер</text>
<text fill="#000" stroke="#000" stroke-width="0.4" transform="translate(583.9,3105.7) rotate(-89.33)" font-family="'Liberation Sans', sans-serif" font-size="48.9"  textLength="142.3" lengthAdjust="spacingAndGlyphs">эталона</text>
<text fill="#000" stroke="#000" stroke-width="0.4" transform="translate(679.9,3111.2) rotate(-89.33)" font-family="'Liberation Sans', sans-serif" font-size="48.7"  textLength="163.4" lengthAdjust="spacingAndGlyphs">значения</text>
<text fill="#000" stroke="#000" stroke-width="0.4" transform="translate(734,3121.2) rotate(-89.33)" font-family="'Liberation Sans', sans-serif" font-size="44.6"  textLength="181.7" lengthAdjust="spacingAndGlyphs">признаков</text>
<text fill="#000" stroke="#000" stroke-width="0.4" transform="translate(893.8,3089.3) rotate(-89.33)" font-family="'Liberation Sans', sans-serif" font-size="48.7"  textLength="105.6" lengthAdjust="spacingAndGlyphs">число</text>
<text fill="#000" stroke="#000" stroke-width="0.4" transform="translate(946.8,3118.3) rotate(-89.33)" font-family="'Liberation Sans', sans-serif" font-size="42.6"  textLength="163.1" lengthAdjust="spacingAndGlyphs">индексов</text>
<text fill="#000" stroke="#000" stroke-width="0.4" transform="translate(1099.9,3114.7) rotate(-89.33)" font-family="'Liberation Sans', sans-serif" font-size="43.8"  textLength="152.3" lengthAdjust="spacingAndGlyphs">индексы</text>
<text fill="#000" stroke="#000" stroke-width="0.4" transform="translate(1390.5,3095.3) rotate(-89.33)" font-family="'Liberation Sans', sans-serif" font-size="46.5"  textLength="106" lengthAdjust="spacingAndGlyphs">число</text>
<text fill="#000" stroke="#000" stroke-width="0.4" transform="translate(1445.9,3110) rotate(-89.33)" font-family="'Liberation Sans', sans-serif" font-size="45.1"  textLength="136.1" lengthAdjust="spacingAndGlyphs">графем</text>
<text fill="#000" stroke="#000" stroke-width="0.4" transform="translate(1628.4,3087.8) rotate(-89.33)" font-family="'Liberation Sans', sans-serif" font-size="43.4"  textLength="89.6" lengthAdjust="spacingAndGlyphs">коды</text>
<text fill="#000" stroke="#000" stroke-width="0.4" transform="translate(1685.3,3112.2) rotate(-89.33)" font-family="'Liberation Sans', sans-serif" font-size="45.1"  textLength="134.8" lengthAdjust="spacingAndGlyphs">графем</text>
<text fill="#000" stroke="#000" stroke-width="0.4" transform="translate(2036,2870.7) rotate(-89.33)" font-family="'Liberation Sans', sans-serif" font-size="47.3"  textLength="122.8" lengthAdjust="spacingAndGlyphs">эталон</text>
</g>
</svg>
</body></html>
